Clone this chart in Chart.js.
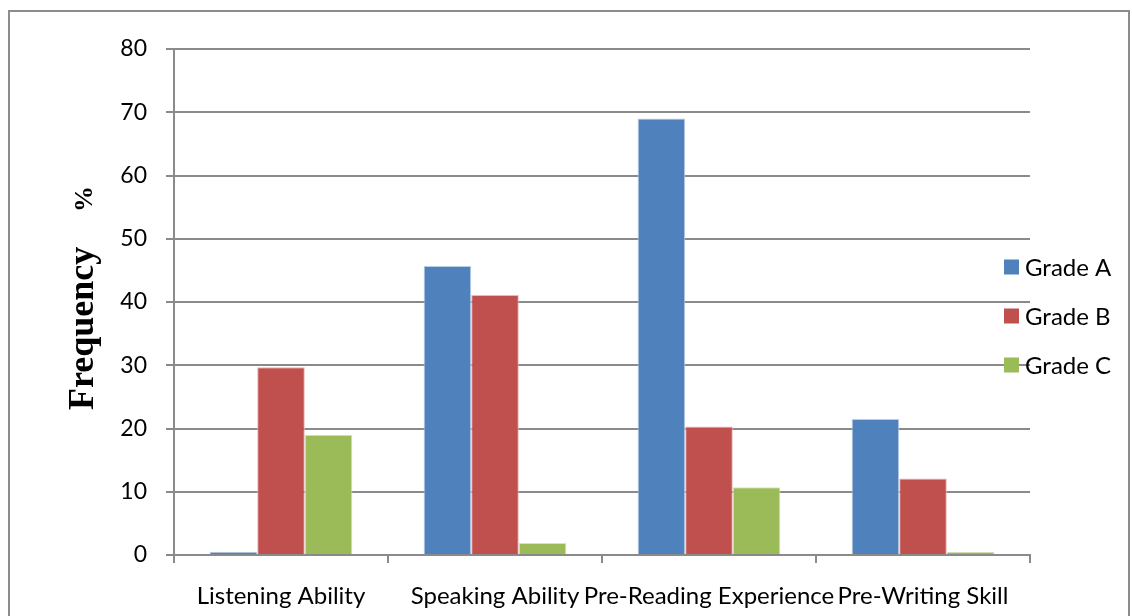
<!DOCTYPE html>
<html>
<head>
<meta charset="utf-8">
<script src="https://cdn.jsdelivr.net/npm/chart.js@4/dist/chart.umd.min.js"></script>
<style>
  html, body { margin: 0; padding: 0; background: #fff; }
  #wrap { position: relative; width: 1132px; height: 616px; }
  canvas { display: block; }
</style>
</head>
<body>
<div id="wrap"><canvas id="chart" width="1132" height="616"></canvas></div>
<script>
// Skill areas on the x axis
const categories = ['Listening Ability', 'Speaking Ability', 'Pre-Reading Experience', 'Pre-Writing Skill'];
// Frequency (%) per grade
const gradeA = [0.5, 45.7, 69.0, 21.5];
const gradeB = [29.7, 41.1, 20.3, 12.1];
const gradeC = [19.0, 1.9, 10.7, 0.5];
const seriesLabels = ['Grade A', 'Grade B', 'Grade C'];
const yTicks = [0, 10, 20, 30, 40, 50, 60, 70, 80];

const colors = ['#4F81BD', '#C0504D', '#9BBB59'];
const edges = ['#B9CDE5', '#E6B9B8', '#D7E4BD'];
const labelFont = "'Lato', 'Open Sans', sans-serif";
const gridGray = '#8A8A8A';

// Frame around the whole figure
const framePlugin = {
  id: 'frame',
  beforeDraw(chart) {
    const ctx = chart.ctx;
    ctx.save();
    ctx.fillStyle = '#fff';
    ctx.fillRect(0, 0, chart.width, chart.height);
    ctx.strokeStyle = '#8C8C8C';
    ctx.lineWidth = 2;
    ctx.strokeRect(9, 11, 1120, 620);
    ctx.restore();
  }
};

// Rotated y-axis title: "Frequency" followed by a smaller "%"
const yTitlePlugin = {
  id: 'yTitle',
  afterDraw(chart) {
    const ctx = chart.ctx;
    ctx.save();
    ctx.translate(93, 410);
    ctx.rotate(-Math.PI / 2);
    ctx.fillStyle = '#000';
    ctx.textAlign = 'left';
    ctx.textBaseline = 'alphabetic';
    ctx.font = "bold 36px 'Liberation Serif', 'Times New Roman', serif";
    ctx.fillText('Frequency', 0, 0);
    ctx.font = "bold 26px 'Liberation Serif', 'Times New Roman', serif";
    ctx.fillText('%', 198, -1);
    ctx.restore();
  }
};

// Legend at the right, drawn from the dataset labels and colours
const legendPlugin = {
  id: 'sideLegend',
  afterDraw(chart) {
    const ctx = chart.ctx;
    ctx.save();
    ctx.font = '24px ' + labelFont;
    ctx.textBaseline = 'middle';
    ctx.textAlign = 'left';
    chart.data.datasets.forEach((ds, i) => {
      const cy = 267 + i * 49;
      ctx.fillStyle = ds.backgroundColor;
      ctx.fillRect(1004, cy - 7.5, 15, 15);
      ctx.fillStyle = '#000';
      ctx.fillText(ds.label, 1025, cy + 1);
    });
    ctx.restore();
  }
};

const datasets = [gradeA, gradeB, gradeC].map((vals, i) => ({
  label: seriesLabels[i],
  data: vals,
  backgroundColor: colors[i],
  borderColor: edges[i],
  borderWidth: 1,
  categoryPercentage: 0.667,
  barPercentage: 1.0
}));

new Chart(document.getElementById('chart'), {
  type: 'bar',
  data: { labels: categories, datasets },
  options: {
    responsive: false,
    animation: false,
    devicePixelRatio: 1,
    layout: { padding: { left: 0, right: 102, top: 49, bottom: 0 } },
    plugins: {
      legend: { display: false },
      tooltip: { enabled: false }
    },
    scales: {
      x: {
        offset: true,
        grid: {
          offset: true,
          drawOnChartArea: false,
          drawTicks: true,
          tickLength: 8,
          color: gridGray,
          lineWidth: 2
        },
        border: { color: gridGray, width: 2 },
        ticks: {
          color: '#000',
          font: { family: labelFont, size: 24 },
          padding: 19,
          maxRotation: 0,
          autoSkip: false
        },
        afterFit(scale) { scale.height = 61; }
      },
      y: {
        min: 0,
        max: 80,
        afterBuildTicks(scale) { scale.ticks = yTicks.map(v => ({ value: v })); },
        grid: {
          color: gridGray,
          lineWidth: 2,
          drawTicks: true,
          tickLength: 8
        },
        border: { color: gridGray, width: 2 },
        ticks: {
          color: '#000',
          font: { family: labelFont, size: 23 },
          padding: 19
        },
        afterFit(scale) { scale.width = 174; }
      }
    }
  },
  plugins: [framePlugin, yTitlePlugin, legendPlugin]
});
</script>
</body>
</html>
